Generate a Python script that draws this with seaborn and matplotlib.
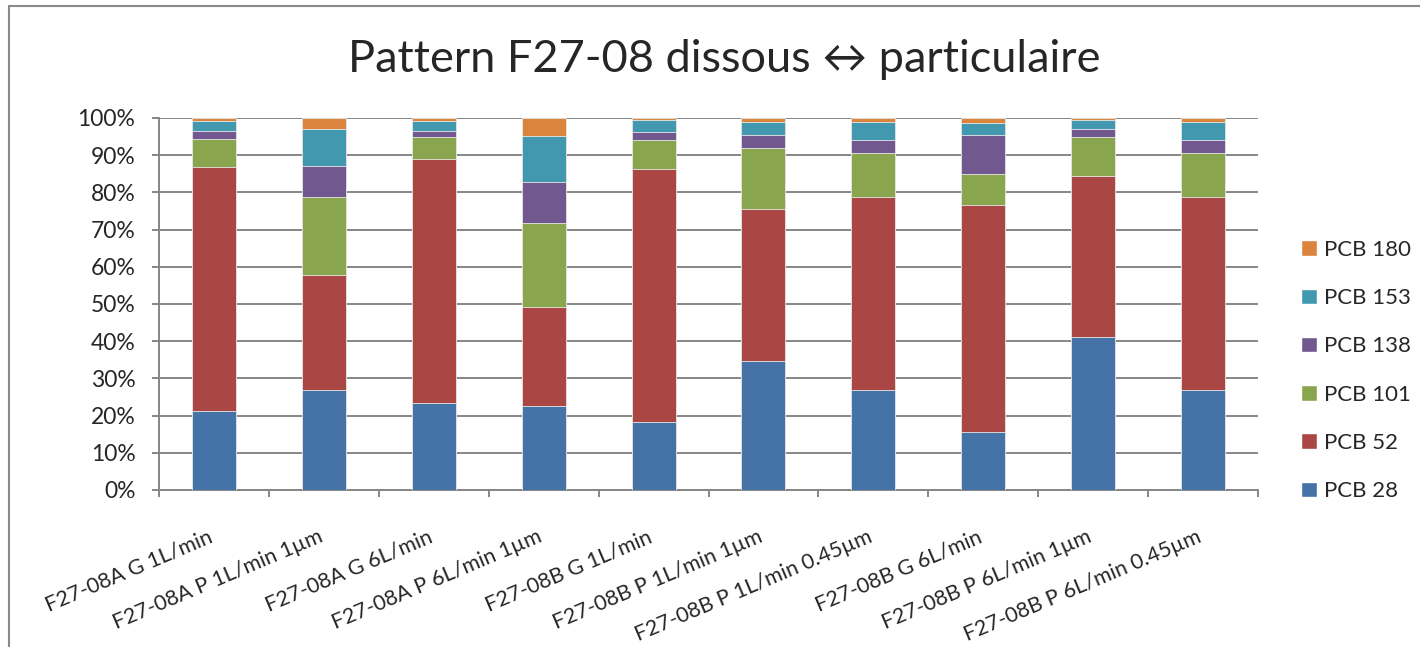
import numpy as np
import pandas as pd
import matplotlib
matplotlib.use('Agg')
import matplotlib.pyplot as plt
from matplotlib.patches import Patch, Rectangle
import seaborn as sns

# données (% de chaque congénère par échantillon)
samples = ['F27-08A G 1L/min', 'F27-08A P 1L/min 1µm', 'F27-08A G 6L/min',
           'F27-08A P 6L/min 1µm', 'F27-08B G 1L/min', 'F27-08B P 1L/min 1µm',
           'F27-08B P 1L/min 0.45µm', 'F27-08B G 6L/min', 'F27-08B P 6L/min 1µm',
           'F27-08B P 6L/min 0.45µm']
congeners = ['PCB 28', 'PCB 52', 'PCB 101', 'PCB 138', 'PCB 153', 'PCB 180']
pcb28 = [21.2, 27.0, 23.5, 22.7, 18.2, 34.6, 27.0, 15.6, 41.2, 27.0]
pcb52 = [65.5, 30.9, 65.4, 26.4, 68.2, 41.0, 51.7, 60.9, 43.3, 51.7]
pcb101 = [7.6, 20.8, 5.9, 22.8, 7.8, 16.4, 11.8, 8.4, 10.3, 11.8]
pcb138 = [2.2, 8.3, 1.7, 10.9, 2.0, 3.5, 3.6, 10.5, 2.2, 3.6]
pcb153 = [2.6, 10.0, 2.6, 12.4, 3.2, 3.3, 4.7, 3.3, 2.4, 4.7]
pcb180 = [0.9, 3.0, 0.9, 4.8, 0.6, 1.2, 1.2, 1.3, 0.6, 1.2]

colors = ['#4572A7', '#AA4643', '#89A54E', '#71588F', '#4198AF', '#DB843D']
grid_col = '#868686'

sns.set_style('white')
plt.rcParams['font.family'] = ['Lato', 'DejaVu Sans']

df = pd.DataFrame([pcb28, pcb52, pcb101, pcb138, pcb153, pcb180],
                  index=congeners, columns=samples).T
# empilement 100 %
pct = df.div(df.sum(axis=1), axis=0) * 100
cum = pct.cumsum(axis=1)

fig = plt.figure(figsize=(14.2, 6.47), dpi=100)
ax = fig.add_axes([159 / 1420, 1 - 490 / 647, 1099 / 1420, 372 / 647])

# on dessine les cumuls du haut vers le bas pour obtenir les barres empilées
for name, col in reversed(list(zip(congeners, colors))):
    sns.barplot(x=samples, y=cum[name].values, order=samples, color=col,
                saturation=1, width=0.4, edgecolor='#e8e8e8', linewidth=0.6,
                ax=ax, zorder=3)

ax.set_ylim(0, 100)
ax.set_xlim(-0.5, len(samples) - 0.5)
ax.set_yticks(np.arange(0, 101, 10))
ax.set_yticklabels([f'{v}%' for v in range(0, 101, 10)])
ax.yaxis.grid(True, color=grid_col, lw=1.4, zorder=0)
ax.set_axisbelow(True)
ax.set_xlabel('')
ax.set_ylabel('')

for s in ['top', 'right']:
    ax.spines[s].set_visible(False)
for s in ['left', 'bottom']:
    ax.spines[s].set_color(grid_col)
    ax.spines[s].set_linewidth(1.4)

ax.tick_params(axis='y', direction='out', length=5, width=1.4, color=grid_col,
               labelsize=16.5, pad=12, left=True)
ax.set_xticks(np.arange(-0.5, len(samples), 1), minor=True)
ax.tick_params(axis='x', which='minor', direction='out', length=5, width=1.4,
               color=grid_col, bottom=True)
ax.tick_params(axis='x', which='major', length=0, labelsize=15.5, pad=37)
for lab in ax.get_xticklabels():
    lab.set_rotation(23)
    lab.set_ha('right')
    lab.set_va('baseline')
    lab.set_rotation_mode('anchor')

# légende (ordre inversé comme dans Excel)
handles = [Patch(facecolor=c, label=n) for n, c in zip(congeners, colors)][::-1]
fig.legend(handles=handles, loc='upper left',
           bbox_to_anchor=(1301 / 1420, 1 - 240 / 647), frameon=False,
           fontsize=16, handlelength=0.7, handleheight=0.7,
           handletextpad=0.35, labelspacing=1.27, borderpad=0,
           borderaxespad=0)

fig.text(724 / 1420, 1 - 72 / 647, 'Pattern F27-08 dissous ↔ particulaire',
         ha='center', va='baseline', fontsize=32.5)

# cadre de la zone graphique
fig.patches.append(Rectangle((9 / 1420, -0.2), 1.2, 1.2 - 6 / 647,
                             transform=fig.transFigure, fill=False,
                             edgecolor='#8a8a8a', lw=1.5))

fig.savefig('out.png', dpi=100)
